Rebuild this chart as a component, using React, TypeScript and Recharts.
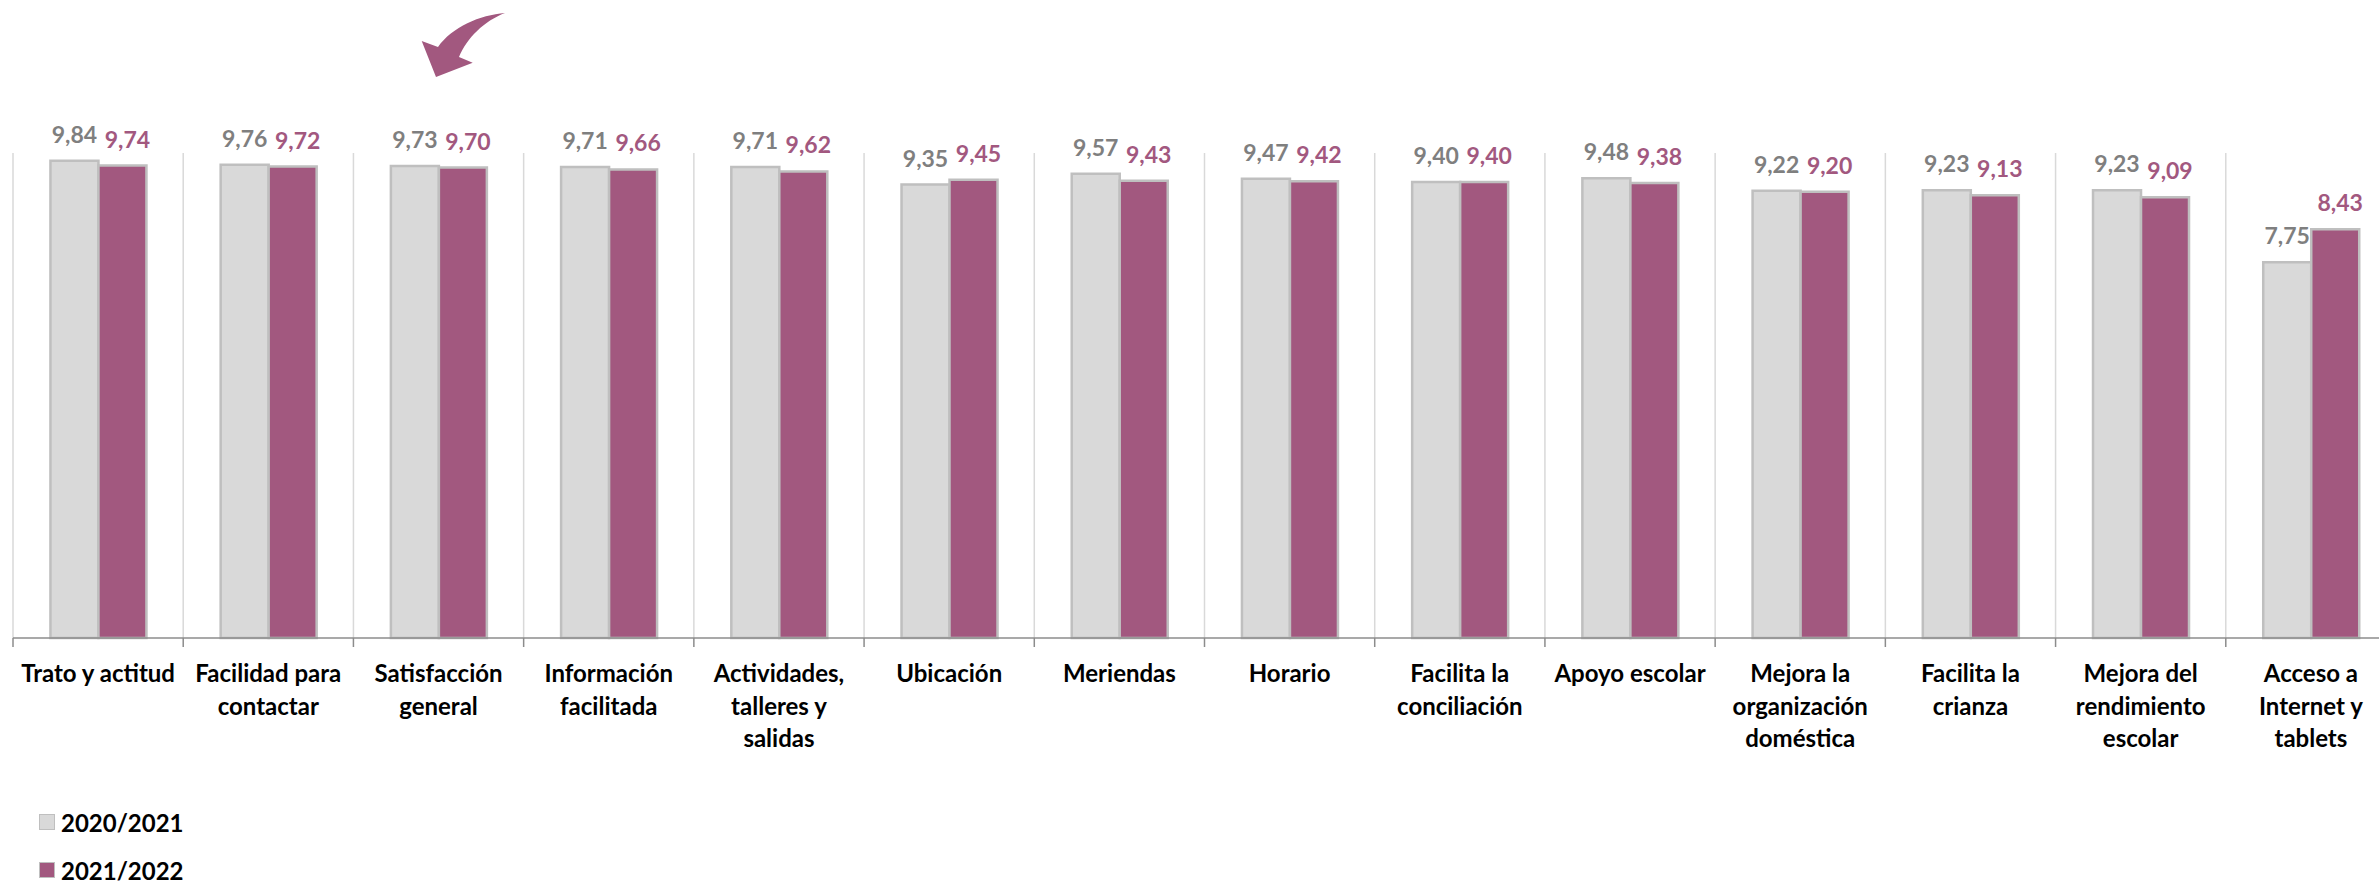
import { BarChart, Bar, XAxis, YAxis, CartesianGrid, Legend, LabelList } from 'recharts'

const categoryLines: string[][] = [
    ['Trato y actitud'],
    ['Facilidad para', 'contactar'],
    ['Satisfacción', 'general'],
    ['Información', 'facilitada'],
    ['Actividades,', 'talleres y', 'salidas'],
    ['Ubicación'],
    ['Meriendas'],
    ['Horario'],
    ['Facilita la', 'conciliación'],
    ['Apoyo escolar'],
    ['Mejora la', 'organización', 'doméstica'],
    ['Facilita la', 'crianza'],
    ['Mejora del', 'rendimiento', 'escolar'],
    ['Acceso a', 'Internet y', 'tablets'],
]

const categories = categoryLines.map((lines) => lines.join(' '))

const values2021 = [9.84, 9.76, 9.73, 9.71, 9.71, 9.35, 9.57, 9.47, 9.4, 9.48, 9.22, 9.23, 9.23, 7.75]
const values2022 = [9.74, 9.72, 9.7, 9.66, 9.62, 9.45, 9.43, 9.42, 9.4, 9.38, 9.2, 9.13, 9.09, 8.43]

const seriesNames = ['2020/2021', '2021/2022']

const data = categories.map((name, i) => ({
    name,
    s2021: values2021[i],
    s2022: values2022[i],
}))

const GRAY = '#d9d9d9'
const GRAY_BORDER = '#bfbfbf'
const PURPLE = '#a2587f'
const FONT = 'Lato, "Open Sans", sans-serif'

const CHART_W = 2396
const CHART_H = 884
const MARGIN = { top: 153, right: 0, bottom: 126, left: 13 }
const XAXIS_H = 120
const PLOT_BOTTOM = CHART_H - MARGIN.bottom - XAXIS_H
const BAND = (CHART_W - MARGIN.left - MARGIN.right) / categories.length

const fmt = (v: number) => v.toFixed(2).replace('.', ',')

function CategoryTick(props: any) {
    const { x, index } = props
    const lines = categoryLines[index] || []
    const left = x - BAND / 2
    return (
        <g>
            <line x1={left} x2={left} y1={PLOT_BOTTOM} y2={PLOT_BOTTOM + 9} stroke="#8c8c8c" strokeWidth={1.5} />
            <text
                x={x}
                y={PLOT_BOTTOM + 44}
                textAnchor="middle"
                fontFamily={FONT}
                fontWeight={700}
                fontSize={24}
                fill="#000"
            >
                {lines.map((line, i) => (
                    <tspan key={i} x={x} dy={i === 0 ? 0 : 32.5}>
                        {line}
                    </tspan>
                ))}
            </text>
        </g>
    )
}

function valueLabel(color: string, dx: number) {
    return (props: any) => {
        const { x, y, width, value } = props
        return (
            <text
                x={x + width / 2 + dx}
                y={y - 18}
                textAnchor="middle"
                fontFamily={FONT}
                fontWeight={700}
                fontSize={23}
                fill={color}
            >
                {fmt(value)}
            </text>
        )
    }
}

function LegendContent(props: any) {
    const { payload } = props
    return (
        <div>
            {(payload || []).map((entry: any, i: number) => (
                <div
                    key={i}
                    style={{ display: 'flex', alignItems: 'center', height: 48 }}
                >
                    <span
                        style={{
                            width: 14,
                            height: 14,
                            backgroundColor: i === 0 ? GRAY : PURPLE,
                            border: `1.5px solid ${GRAY_BORDER}`,
                            marginRight: 6,
                            flexShrink: 0,
                        }}
                    />
                    <span
                        style={{
                            fontFamily: FONT,
                            fontWeight: 700,
                            fontSize: 24,
                            color: '#000',
                        }}
                    >
                        {entry.value}
                    </span>
                </div>
            ))}
        </div>
    )
}

export default function App() {
    return (
        <div
            style={{
                position: 'fixed',
                left: 0,
                top: 0,
                width: 2379,
                height: 884,
                overflow: 'hidden',
                background: '#fff',
            }}
        >
            <BarChart
                width={CHART_W}
                height={CHART_H}
                data={data}
                margin={MARGIN}
                barCategoryGap="22%"
                barGap={0}
            >
                <CartesianGrid
                    horizontal={false}
                    stroke="#d9d9d9"
                    strokeWidth={1.5}
                    verticalCoordinatesGenerator={({ offset }: any) =>
                        categories.map((_, i) => offset.left + (i * offset.width) / categories.length)
                    }
                />
                <XAxis
                    dataKey="name"
                    height={XAXIS_H}
                    interval={0}
                    tickLine={false}
                    axisLine={{ stroke: '#8c8c8c', strokeWidth: 1.5 }}
                    tick={<CategoryTick />}
                />
                <YAxis hide domain={[0, 10]} />
                <Legend
                    layout="vertical"
                    align="center"
                    verticalAlign="middle"
                    wrapperStyle={{ left: 39, top: 798, width: 300 }}
                    content={<LegendContent />}
                />
                <Bar
                    dataKey="s2021"
                    name={seriesNames[0]}
                    fill={GRAY}
                    stroke={GRAY_BORDER}
                    strokeWidth={2.5}
                    isAnimationActive={false}
                >
                    <LabelList dataKey="s2021" content={valueLabel('#7f7f7f', 0)} />
                </Bar>
                <Bar
                    dataKey="s2022"
                    name={seriesNames[1]}
                    fill={PURPLE}
                    stroke={GRAY_BORDER}
                    strokeWidth={2.5}
                    isAnimationActive={false}
                >
                    <LabelList dataKey="s2022" content={valueLabel(PURPLE, 5)} />
                </Bar>
            </BarChart>
            <svg
                width={120}
                height={100}
                style={{ position: 'absolute', left: 400, top: 0 }}
                viewBox="400 0 120 100"
            >
                <path
                    d="M 505 13 C 480 15, 452 27, 438 47 L 421.7 41 L 436 77 L 472.7 62.7 L 459 57 C 467 38, 484 21, 505 13 Z"
                    fill={PURPLE}
                />
            </svg>
        </div>
    )
}
